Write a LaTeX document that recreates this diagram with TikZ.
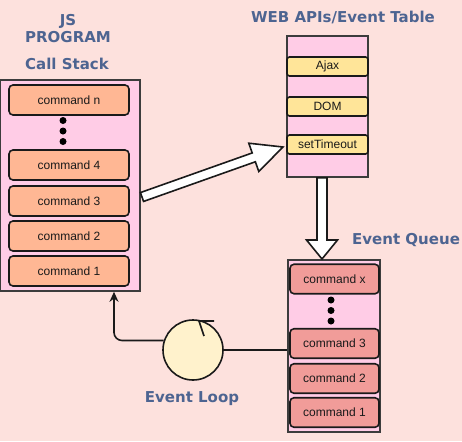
\documentclass[tikz,border=0pt]{standalone}
\usepackage{fontspec}
\setmainfont{Liberation Sans}
\newfontfamily\titlefont{DejaVu Sans}
\usetikzlibrary{calc,arrows.meta}
\definecolor{bgcol}{RGB}{253,225,221}
\definecolor{pinkbox}{RGB}{255,204,230}
\definecolor{orangecmd}{RGB}{255,183,148}
\definecolor{redcmd}{RGB}{241,156,153}
\definecolor{yellowcmd}{RGB}{255,229,153}
\definecolor{loopfill}{RGB}{255,242,204}
\definecolor{titlecol}{RGB}{77,100,145}
\definecolor{edgecol}{RGB}{26,26,26}
\begin{document}
\begin{tikzpicture}[x=1pt,y=-1pt,
  outerbox/.style={draw=edgecol!85!white, line width=1.6pt, fill=pinkbox, inner sep=0pt},
  cmdbox/.style={draw=edgecol, line width=1.6pt, rounded corners=4pt, inner sep=0pt,
    font=\fontsize{12}{14}\selectfont, text=edgecol},
  stackcmd/.style={cmdbox, fill=orangecmd, minimum width=120pt, minimum height=30pt},
  queuecmd/.style={cmdbox, fill=redcmd, minimum width=89pt, minimum height=29.5pt},
  apicmd/.style={cmdbox, fill=yellowcmd, rounded corners=2.5pt, minimum width=81pt, minimum height=19pt},
  titletext/.style={font=\titlefont\bfseries\fontsize{15}{17.5}\selectfont, text=titlecol, align=center, inner sep=0pt},
  dotmark/.style={fill=black, circle, inner sep=0pt, minimum size=7pt},
  blockarrow/.style={draw=edgecol, line width=1.6pt, fill=white, line join=miter},
  link/.style={draw=edgecol, line width=1.6pt}
]
\fill[bgcol] (0,0) rectangle (462,441);
\useasboundingbox (0,0) rectangle (462,441);

% titles
\node[titletext] (jstitle) at (68,28.5) {JS\\PROGRAM};
\node[titletext] (cstitle) at (67,64) {Call Stack};
\node[titletext] (apititle) at (343,17) {WEB APIs/Event Table};
\node[titletext, anchor=west] (eqtitle) at (352,240) {Event Queue};
\node[titletext] (eltitle) at (192,399) {Event Loop};

% call stack
\node[outerbox, minimum width=140pt, minimum height=211pt] (cs) at (70,185.5) {};
\node[stackcmd] (csn) at (69,100) {command n};
\node[dotmark] (csd1) at (63,120.5) {};
\node[dotmark] (csd2) at (63,131) {};
\node[dotmark] (csd3) at (63,141.5) {};
\node[stackcmd] (cs4) at (69,165) {command 4};
\node[stackcmd] (cs3) at (69,201) {command 3};
\node[stackcmd] (cs2) at (69,236) {command 2};
\node[stackcmd] (cs1) at (69,271) {command 1};

% web apis
\node[outerbox, minimum width=81pt, minimum height=141pt] (api) at (327.5,106.5) {};
\node[apicmd] (ajax) at (327.5,66.5) {Ajax};
\node[apicmd] (dom) at (327.5,106.5) {DOM};
\node[apicmd] (sto) at (327.5,144.5) {setTimeout};

% event queue
\node[outerbox, minimum width=92pt, minimum height=172pt] (eq) at (334,346) {};
\node[queuecmd] (eqx) at (334.5,279) {command x};
\node[dotmark] (eqd1) at (331,300) {};
\node[dotmark] (eqd2) at (331,310.5) {};
\node[dotmark] (eqd3) at (331,321) {};
\node[queuecmd] (eq3) at (334.5,343.5) {command 3};
\node[queuecmd] (eq2) at (334.5,378.5) {command 2};
\node[queuecmd] (eq1) at (334.5,412.5) {command 1};

% event loop
\node[circle, draw=edgecol, line width=1.6pt, fill=loopfill, minimum size=60pt, inner sep=0pt] (el) at (193,350) {};
\draw[link] (214,321) -- (199,321) -- (204,336);

% diagonal block arrow: call stack -> web apis
\coordinate (dA) at (142,197);
\coordinate (dB) at (283,147);
\coordinate (dH) at ($(dB)!31pt!(dA)$);
\draw[blockarrow] ($(dA)!4.7pt!90:(dB)$) -- ($(dH)!4.7pt!90:(dB)$) -- ($(dH)!15pt!90:(dB)$) -- (dB)
  -- ($(dH)!15pt!-90:(dB)$) -- ($(dH)!4.7pt!-90:(dB)$) -- ($(dA)!4.7pt!-90:(dB)$) -- cycle;

% down block arrow: web apis -> event queue
\coordinate (vA) at (api.south -| 322,0);
\coordinate (vB) at (322,259);
\coordinate (vH) at ($(vB)!19pt!(vA)$);
\draw[blockarrow] ($(vA)!5pt!90:(vB)$) -- ($(vH)!5pt!90:(vB)$) -- ($(vH)!15.5pt!90:(vB)$) -- (vB)
  -- ($(vH)!15.5pt!-90:(vB)$) -- ($(vH)!5pt!-90:(vB)$) -- ($(vA)!5pt!-90:(vB)$) -- cycle;

% event loop connectors
\draw[link] (el.east) -- (el.east -| eq.west);
\coordinate (csin) at (cs.south -| 114,0);
\draw[link, rounded corners=8pt, -{Stealth[length=10pt,width=9pt]}] (el.162.5) -| (csin);
\end{tikzpicture}
\end{document}
